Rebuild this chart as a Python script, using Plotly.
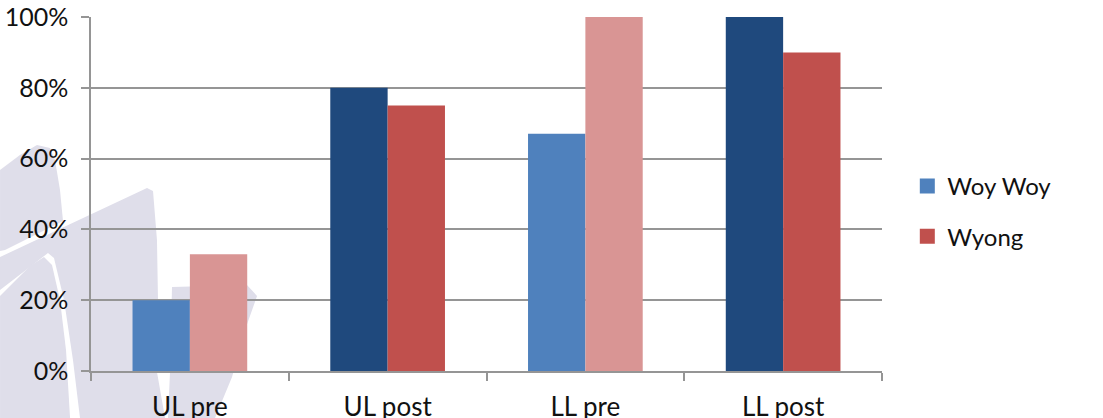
import plotly.graph_objects as go

# Chart data
categories = ["UL pre", "UL post", "LL pre", "LL post"]
woy_woy = [0.20, 0.80, 0.67, 1.00]
wyong = [0.33, 0.75, 1.00, 0.90]

# Pre-intervention bars are drawn lighter than post-intervention bars
woy_woy_colors = ["#4F81BD", "#1F497D", "#4F81BD", "#1F497D"]
wyong_colors = ["#D99594", "#C0504D", "#D99594", "#C0504D"]

W, H = 1103, 418
ML, MR, MT, MB = 91, 221, 17, 47
PW, PH = W - ML - MR, H - MT - MB

GRID = "#959595"
FONT = "Lato"


def to_paper(pts):
    """Convert page pixel points into a closed SVG path in paper units."""
    segs = []
    for i, (px, py) in enumerate(pts):
        xp = (px - ML) / PW
        yp = (H - MB - py) / PH
        segs.append(("M" if i == 0 else "L") + f"{xp:.4f},{yp:.4f}")
    return " ".join(segs) + " Z"


# Faint background emblem
emblem = [
    [(0, 170), (20, 155), (37, 145), (50, 148), (55, 160), (60, 190), (63, 221), (5, 250), (0, 251)],
    [(0, 257), (147, 188), (153, 191), (157, 240), (158, 300), (157, 372), (165, 418),
     (80, 418), (73, 360), (64, 300), (54, 258), (48, 253), (0, 290)],
    [(0, 296), (30, 266), (44, 257), (52, 265), (60, 300), (66, 350), (70, 418), (0, 418)],
    [(172, 287), (247, 285), (257, 296), (245, 330), (232, 377), (215, 418), (168, 418),
     (170, 372)],
]

fig = go.Figure()

fig.add_trace(go.Bar(
    name="Woy Woy", x=categories, y=woy_woy,
    marker=dict(color=woy_woy_colors, line=dict(width=0)),
    showlegend=False,
))
fig.add_trace(go.Bar(
    name="Wyong", x=categories, y=wyong,
    marker=dict(color=wyong_colors, line=dict(width=0)),
    showlegend=False,
))

# Legend entries
for name, color, grp in [("Woy Woy", woy_woy_colors[0], "a"), ("Wyong", wyong_colors[1], "b")]:
    fig.add_trace(go.Scatter(
        x=[None], y=[None], mode="markers", name=name, legendgroup=grp,
        marker=dict(symbol="square", size=15, color=color),
    ))

shapes = [
    dict(type="path", path=to_paper(p), xref="paper", yref="paper",
         fillcolor="#DFDEEA", line=dict(width=0), layer="below")
    for p in emblem
]

fig.update_layout(
    width=W, height=H,
    margin=dict(l=ML, r=MR, t=MT, b=MB, pad=0, autoexpand=False),
    paper_bgcolor="white",
    plot_bgcolor="rgba(0,0,0,0)",
    barmode="group",
    bargap=0.42,
    bargroupgap=0,
    font=dict(family=FONT, size=25, color="#111111"),
    shapes=shapes,
    legend=dict(
        x=1.032, y=0.585, xanchor="left", yanchor="top",
        bgcolor="rgba(0,0,0,0)", tracegroupgap=16,
        font=dict(family=FONT, size=24, color="#111111"),
    ),
    xaxis=dict(
        automargin=False,
        showgrid=False, showline=True, linecolor=GRID, linewidth=1.5,
        ticks="outside", tickson="boundaries", ticklen=8, tickcolor=GRID, tickwidth=1.5,
        ticklabelstandoff=12, tickfont=dict(size=26),
    ),
    yaxis=dict(
        automargin=False,
        range=[0, 1], dtick=0.2, tickformat=".0%",
        showgrid=True, gridcolor=GRID, gridwidth=1.5,
        showline=True, linecolor=GRID, linewidth=1.5,
        ticks="outside", ticklen=8, tickcolor=GRID, tickwidth=1.5,
        zeroline=False, ticklabelstandoff=8,
    ),
)

fig.write_html("out.html")
